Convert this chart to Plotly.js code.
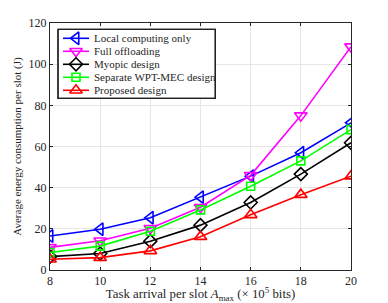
<!DOCTYPE html>
<html><head><meta charset="utf-8">
<script src="https://cdn.plot.ly/plotly-3.0.1.min.js"></script>
<style>body{margin:0;background:#fff}#c{width:388px;height:303px}</style>
</head><body><div id="c"></div>
<script>
const xVals = [8, 10, 12, 14, 16, 18, 20];
const localComputing = [16.5, 19.8, 25.4, 35.4, 45.6, 57.0, 71.5];
const fullOffloading = [11.0, 14.2, 20.3, 30.5, 46.0, 75.0, 108.5];
const myopic = [6.5, 8.0, 14.0, 21.8, 32.8, 46.6, 61.8];
const separate = [8.5, 11.6, 18.8, 29.2, 40.7, 53.0, 68.2];
const proposed = [5.2, 6.0, 9.3, 16.2, 26.8, 36.6, 45.6];
const names = ['Local computing only', 'Full offloading', 'Myopic design', 'Separate WPT-MEC design', 'Proposed design'];
const yTicks = [0, 20, 40, 60, 80, 100, 120];
const series = [localComputing, fullOffloading, myopic, separate, proposed];
const colors = ['#0000ff', '#ff00ff', '#000000', '#00ff00', '#ff0000'];
const symbols = ['triangle-left-open', 'triangle-down-open', 'diamond-open', 'square-open', 'triangle-up-open'];
const sizes = [11, 11, 10, 8, 11];

const fam = '"Liberation Serif", "Times New Roman", serif';
const txt = '#262626';

const W = 388, H = 303, ML = 50, MR = 37, MT = 23, MB = 33;
const pw = W - ML - MR, ph = H - MT - MB;
const px = v => (v - ML) / pw;         // page pixel -> paper x
const py = v => (H - MB - v) / ph;     // page pixel -> paper y

const traces = series.map((y, i) => ({
  x: xVals, y: y, name: names[i], type: 'scatter', mode: 'lines+markers', showlegend: false,
  line: {color: colors[i], width: 1.6},
  marker: {symbol: symbols[i], size: sizes[i], color: colors[i], line: {width: 1.6, color: colors[i]}}
}));

// custom compact legend on a hidden overlay axis (0..1 like paper)
const box = {x0: 58, x1: 215.3, y0: 29.3, y1: 98.3};
traces.push({x: [px(box.x0), px(box.x1), px(box.x1), px(box.x0), px(box.x0)],
  y: [py(box.y0), py(box.y0), py(box.y1), py(box.y1), py(box.y0)],
  xaxis: 'x2', yaxis: 'y2', type: 'scatter', mode: 'lines', fill: 'toself', fillcolor: '#ffffff',
  line: {width: 1.3, color: '#222222'}, showlegend: false, hoverinfo: 'skip'});
const legRowY = [38.3, 51.3, 64.3, 77.3, 90.3];
const annotations = [];
names.forEach((n, i) => {
  traces.push({x: [px(63), px(89)], y: [py(legRowY[i]), py(legRowY[i])], xaxis: 'x2', yaxis: 'y2',
    type: 'scatter', mode: 'lines', showlegend: false, hoverinfo: 'skip', line: {color: colors[i], width: 1.6}});
  traces.push({x: [px(76)], y: [py(legRowY[i])], xaxis: 'x2', yaxis: 'y2', type: 'scatter', mode: 'markers',
    showlegend: false, hoverinfo: 'skip',
    marker: {symbol: symbols[i], size: sizes[i], color: colors[i], line: {width: 1.6, color: colors[i]}}});
  annotations.push({xref: 'paper', yref: 'paper', x: px(91.5), y: py(legRowY[i]), text: n, showarrow: false,
    xanchor: 'left', yanchor: 'middle', font: {family: fam, size: 11, color: txt}});
});

const layout = {
  width: W, height: H,
  margin: {l: ML, r: MR, t: MT, b: MB},
  paper_bgcolor: '#fff', plot_bgcolor: '#fff',
  font: {family: fam, color: txt, size: 12},
  showlegend: false,
  annotations: annotations,
  shapes: [{type: 'rect', xref: 'paper', yref: 'paper', x0: px(box.x0), x1: px(box.x1), y0: py(box.y0), y1: py(box.y1),
    line: {color: '#222222', width: 1.3}, layer: 'above'}],
  xaxis: {range: [8, 20], tickvals: xVals, ticks: 'inside', ticklen: 3, tickcolor: txt,
    showline: true, mirror: 'ticks', linecolor: txt, linewidth: 1,
    showgrid: true, gridcolor: '#e6e6e6', zeroline: false,
    tickfont: {family: fam, size: 12, color: txt},
    title: {text: 'Task arrival per slot <i>A</i><sub>max</sub> (× 10<sup>5</sup> bits)', standoff: 2,
      font: {family: fam, size: 12.8, color: txt}}},
  yaxis: {range: [0, 120], tickvals: yTicks, ticks: 'inside', ticklen: 3, tickcolor: txt,
    showline: true, mirror: 'ticks', linecolor: txt, linewidth: 1,
    showgrid: true, gridcolor: '#e6e6e6', zeroline: false,
    tickfont: {family: fam, size: 12, color: txt},
    title: {text: 'Average energy consumption per slot (J)', standoff: 4,
      font: {family: fam, size: 11, color: txt}}},
  xaxis2: {overlaying: 'x', range: [0, 1], visible: false, fixedrange: true},
  yaxis2: {overlaying: 'y', range: [0, 1], visible: false, fixedrange: true}
};
Plotly.newPlot('c', traces, layout, {displayModeBar: false, staticPlot: true});
</script></body></html>
